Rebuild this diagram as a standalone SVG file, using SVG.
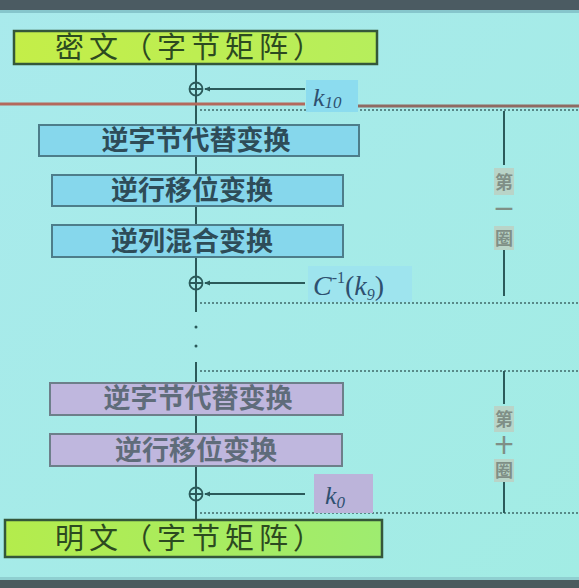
<svg xmlns="http://www.w3.org/2000/svg" width="579" height="588" viewBox="0 0 579 588">
<defs>
<linearGradient id="bg" x1="0" y1="0" x2="1" y2="1">
<stop offset="0" stop-color="#a9eaec"/>
<stop offset="1" stop-color="#a2ece4"/>
</linearGradient>
<linearGradient id="grn" x1="0" y1="0" x2="1" y2="0">
<stop offset="0" stop-color="#c4ee48"/>
<stop offset="1" stop-color="#b6ee5c"/>
</linearGradient>
<linearGradient id="grn2" x1="0" y1="0" x2="1" y2="0">
<stop offset="0" stop-color="#b4ec4c"/>
<stop offset="1" stop-color="#9eec70"/>
</linearGradient>
<marker id="ah" markerWidth="6" markerHeight="6" refX="5" refY="3" orient="auto" markerUnits="userSpaceOnUse">
<path d="M0,0.5 L6,3 L0,5.5 Z" fill="#2b5a5a"/>
</marker>
</defs>
<style>
.cn{font-family:"Noto Sans CJK SC","Noto Sans",sans-serif}
.gbox{stroke:#34573a;stroke-width:2.5}
.gtxt{fill:#2c4a20;font-size:29px}
.bbox{fill:#86d7ec;stroke:#4d7d8a;stroke-width:2}
.btxt{fill:#2e4c58;font-size:27px;font-weight:bold;text-anchor:middle}
.pbox{fill:#bfb7de;stroke:#6d7f8a;stroke-width:2}
.ptxt{fill:#5f6c7a;font-size:27px;font-weight:bold;text-anchor:middle}
.ln{stroke:#2b5a5a;stroke-width:2;fill:none}
.dot{stroke:#3f6a6a;stroke-width:1.5;stroke-dasharray:2 2;fill:none}
.xor{fill:none;stroke:#2b5a5a;stroke-width:1.8}
.math{font-family:"Liberation Serif",serif;font-style:italic;fill:#2e5070}
.side{fill:#7f8f86;font-size:18px;font-weight:bold;text-anchor:middle}
</style>
<rect x="0" y="0" width="579" height="588" fill="url(#bg)"/>
<rect x="0" y="0" width="579" height="10" fill="#4b5b62"/>
<rect x="0" y="10" width="579" height="3" fill="#86c6cc"/>
<rect x="0" y="580" width="579" height="8" fill="#4a5b5e"/>
<rect x="0" y="577" width="579" height="3" fill="#8fcfd0"/>

<g id="connectors">
<line class="ln" x1="196" y1="64" x2="196" y2="125"/>
<line class="ln" x1="196" y1="156" x2="196" y2="175"/>
<line class="ln" x1="196" y1="206" x2="196" y2="225"/>
<line class="ln" x1="196" y1="257" x2="196" y2="312"/>
<line class="ln" x1="196" y1="362" x2="196" y2="383"/>
<line class="ln" x1="196" y1="416" x2="196" y2="434"/>
<line class="ln" x1="196" y1="467" x2="196" y2="520"/>
<circle cx="196" cy="327" r="1.5" fill="#2b5a5a"/>
<circle cx="196" cy="346" r="1.5" fill="#2b5a5a"/>
<line class="ln" x1="305" y1="89" x2="205" y2="89" marker-end="url(#ah)"/>
<line class="ln" x1="305" y1="283" x2="205" y2="283" marker-end="url(#ah)"/>
<line class="ln" x1="305" y1="494" x2="205" y2="494" marker-end="url(#ah)"/>
<circle class="xor" cx="196" cy="89" r="6.5"/>
<line class="ln" x1="189.5" y1="89" x2="202.5" y2="89" stroke-width="1.5"/>
<circle class="xor" cx="196" cy="283" r="6.5"/>
<line class="ln" x1="189.5" y1="283" x2="202.5" y2="283" stroke-width="1.5"/>
<circle class="xor" cx="196" cy="494" r="6.5"/>
<line class="ln" x1="189.5" y1="494" x2="202.5" y2="494" stroke-width="1.5"/>
<line x1="0" y1="104" x2="305" y2="104" stroke="#b3695c" stroke-width="3"/>
<line x1="358" y1="106" x2="579" y2="106" stroke="#8f6a62" stroke-width="3"/>
<line class="dot" x1="200" y1="110" x2="579" y2="110"/>
<line class="dot" x1="200" y1="303" x2="579" y2="303"/>
<line class="dot" x1="200" y1="371" x2="579" y2="371"/>
<line class="dot" x1="200" y1="513" x2="579" y2="513"/>
<line class="ln" x1="504" y1="111" x2="504" y2="165"/>
<line class="ln" x1="504" y1="250" x2="504" y2="296"/>
<line class="ln" x1="504" y1="371" x2="504" y2="404"/>
<line class="ln" x1="504" y1="482" x2="504" y2="513"/>
</g>

<g id="ciphertext">
<rect class="gbox" x="14" y="31" width="363" height="33" fill="url(#grn)"/>
<text class="cn gtxt" x="55" y="58" letter-spacing="5">密文（字节矩阵）</text>
</g>
<g id="k10">
<rect x="306" y="80" width="52" height="32" fill="#8cdcef"/>
<text class="math" x="313" y="106" font-size="26">k<tspan font-size="17" dy="2">10</tspan></text>
</g>
<g id="invsub1">
<rect class="bbox" x="39" y="125" width="320" height="31"/>
<text class="cn btxt" x="196" y="150">逆字节代替变换</text>
</g>
<g id="invshift1">
<rect class="bbox" x="52" y="175" width="291" height="31"/>
<text class="cn btxt" x="192" y="200">逆行移位变换</text>
</g>
<g id="invmix1">
<rect class="bbox" x="52" y="225" width="291" height="32"/>
<text class="cn btxt" x="192" y="251">逆列混合变换</text>
</g>
<g id="ck9">
<rect x="308" y="266" width="104" height="36" fill="#9ee4ee"/>
<text class="math" x="313" y="295" font-size="28">C<tspan font-style="normal" font-size="16" dy="-12">-1</tspan><tspan font-style="normal" dy="12">(</tspan>k<tspan font-size="16" dy="5">9</tspan><tspan font-style="normal" dy="-5">)</tspan></text>
</g>
<g id="round1">
<rect x="494" y="168" width="20" height="27" fill="#b9d4c8"/>
<text class="cn side" x="504" y="189">第</text>
<text class="cn side" x="504" y="216">一</text>
<rect x="494" y="226" width="20" height="24" fill="#b9d4c8"/>
<text class="cn side" x="504" y="245">圈</text>
</g>
<g id="invsub10">
<rect class="pbox" x="50" y="383" width="293" height="32"/>
<text class="cn ptxt" x="198" y="408">逆字节代替变换</text>
</g>
<g id="invshift10">
<rect class="pbox" x="50" y="434" width="292" height="32"/>
<text class="cn ptxt" x="196" y="460">逆行移位变换</text>
</g>
<g id="k0">
<rect x="314" y="474" width="59" height="39" fill="#bcb4da"/>
<text class="math" x="325" y="504" font-size="26" fill="#5a6a8a">k<tspan font-size="17" dy="4">0</tspan></text>
</g>
<g id="round10">
<rect x="494" y="406" width="20" height="26" fill="#b9d4c8"/>
<text class="cn side" x="504" y="426">第</text>
<text class="cn side" x="504" y="452">十</text>
<rect x="494" y="459" width="20" height="23" fill="#b9d4c8"/>
<text class="cn side" x="504" y="477">圈</text>
</g>
<g id="plaintext">
<rect class="gbox" x="5" y="520" width="377" height="37" fill="url(#grn2)"/>
<text class="cn gtxt" x="55" y="549" letter-spacing="5">明文（字节矩阵）</text>
</g>
</svg>
